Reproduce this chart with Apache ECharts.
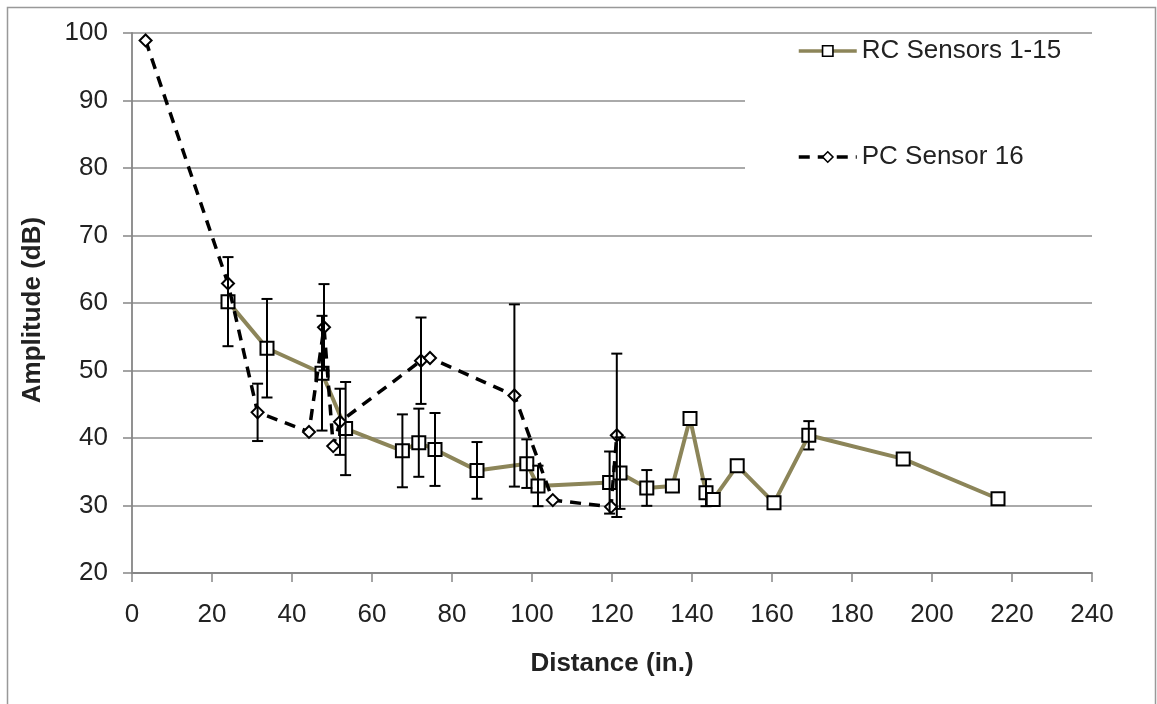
<!DOCTYPE html>
<html>
<head>
<meta charset="utf-8">
<script src="https://cdn.jsdelivr.net/npm/echarts@6/dist/echarts.min.js"></script>
<style>
  html, body { margin: 0; padding: 0; background: #fff; }
  #chart { width: 1157px; height: 704px; }
</style>
</head>
<body>
<div id="chart"></div>
<script>
// RC sensors 1-15 (squares, solid olive line)
var rcDist = [24, 33.75, 47.5, 53.4, 67.6, 71.7, 75.75, 86.25, 98.7, 101.5, 119.4, 122, 128.7, 135.1, 139.5, 143.5, 145.3, 151.3, 160.5, 169.2, 192.8, 216.5];
var rcAmp  = [60.2, 53.3, 49.6, 41.4, 38.1, 39.3, 38.3, 35.2, 36.2, 32.9, 33.4, 34.8, 32.6, 32.9, 42.9, 31.9, 30.9, 35.9, 30.4, 40.4, 36.9, 31.0];
var rcErr  = [6.6, 7.3, 8.5, 6.9, 5.4, 5.05, 5.4, 4.2, 3.6, 3.0, 4.6, 5.3, 2.65, 0, 0, 2.0, 0, 0, 0, 2.1, 0, 0];

// PC sensor 16 (diamonds, dashed black line)
var pcDist = [3.4, 24, 31.4, 44.25, 48, 50.3, 52, 72.25, 74.5, 95.6, 105.2, 119.75, 121.2];
var pcAmp  = [98.9, 62.9, 43.8, 40.9, 56.4, 38.8, 42.4, 51.45, 51.85, 46.3, 30.8, 29.8, 40.4];
var pcErr  = [0, 0, 4.25, 0, 6.4, 0, 4.9, 6.4, 0, 13.5, 0, 0, 12.1];

var xTicks = { min: 0, max: 240, interval: 20 };
var yTicks = { min: 20, max: 100, interval: 10 };

function pairs(xs, ys) {
    return xs.map(function (x, i) { return [x, ys[i]]; });
}

function errRows(xs, ys, es) {
    var out = [];
    for (var i = 0; i < xs.length; i++) {
        if (es[i] > 0) out.push([xs[i], ys[i] - es[i], ys[i] + es[i]]);
    }
    return out;
}

function renderErr(params, api) {
    var x = api.value(0);
    var top = api.coord([x, api.value(2)]);
    var bot = api.coord([x, api.value(1)]);
    var w = 5.5;
    var st = { stroke: '#000', lineWidth: 2 };
    return {
        type: 'group',
        children: [
            { type: 'line', shape: { x1: top[0], y1: top[1], x2: bot[0], y2: bot[1] }, style: st },
            { type: 'line', shape: { x1: top[0] - w, y1: top[1], x2: top[0] + w, y2: top[1] }, style: st },
            { type: 'line', shape: { x1: bot[0] - w, y1: bot[1], x2: bot[0] + w, y2: bot[1] }, style: st }
        ]
    };
}

var font = '"Liberation Sans", Arial, sans-serif';
var axisGray = '#868686';

var chart = echarts.init(document.getElementById('chart'));
chart.setOption({
    animation: false,
    backgroundColor: '#fff',
    textStyle: { fontFamily: font },
    graphic: [{
        type: 'rect',
        shape: { x: 7.5, y: 7.5, width: 1148, height: 720 },
        style: { fill: 'none', stroke: '#999', lineWidth: 1.5 },
        silent: true
    }],
    grid: { left: 132, right: 65, top: 33, bottom: 131 },
    legend: {
        orient: 'vertical',
        left: 745,
        top: 36,
        padding: [2, 50, 40, 52],
        backgroundColor: '#fff',
        itemWidth: 58,
        itemHeight: 13,
        itemGap: 80,
        data: ['RC Sensors 1-15', 'PC Sensor 16'],
        lineStyle: { width: 3.5 },
        itemStyle: { borderWidth: 1.6 },
        textStyle: { fontSize: 26, color: '#222', fontFamily: font }
    },
    xAxis: {
        type: 'value',
        min: xTicks.min, max: xTicks.max, interval: xTicks.interval,
        name: 'Distance (in.)',
        nameLocation: 'middle',
        nameGap: 78,
        nameTextStyle: { fontSize: 26, fontWeight: 'bold', color: '#222' },
        axisLine: { lineStyle: { color: axisGray, width: 1.8 } },
        axisTick: { show: true, length: 9, lineStyle: { color: axisGray, width: 1.5 } },
        axisLabel: { fontSize: 26, color: '#222', margin: 29 },
        splitLine: { show: false }
    },
    yAxis: {
        type: 'value',
        min: yTicks.min, max: yTicks.max, interval: yTicks.interval,
        name: 'Amplitude (dB)',
        nameLocation: 'middle',
        nameRotate: 90,
        nameGap: 86,
        nameTextStyle: { fontSize: 26, fontWeight: 'bold', color: '#222', padding: [0, 0, 0, -14] },
        axisLine: { show: true, lineStyle: { color: axisGray, width: 1.8 } },
        axisTick: { show: true, length: 9, lineStyle: { color: axisGray, width: 1.5 } },
        axisLabel: { fontSize: 26, color: '#222', margin: 24 },
        splitLine: { show: true, lineStyle: { color: '#8e8e8e', width: 1.5 } }
    },
    series: [
        {
            name: 'RC Sensors 1-15',
            type: 'line',
            data: pairs(rcDist, rcAmp),
            symbol: 'rect',
            symbolSize: 13,
            showAllSymbol: true,
            lineStyle: { color: '#8c8559', width: 4 },
            itemStyle: { color: '#fff', borderColor: '#000', borderWidth: 2 },
            z: 3
        },
        {
            name: 'PC Sensor 16',
            type: 'line',
            data: pairs(pcDist, pcAmp),
            symbol: 'diamond',
            symbolSize: 12,
            showAllSymbol: true,
            lineStyle: { color: '#000', width: 3.5, type: [11, 8] },
            itemStyle: { color: '#fff', borderColor: '#000', borderWidth: 2 },
            z: 4
        },
        {
            type: 'custom',
            data: errRows(rcDist, rcAmp, rcErr),
            encode: { x: 0, y: [1, 2] },
            renderItem: renderErr,
            silent: true,
            z: 5
        },
        {
            type: 'custom',
            data: errRows(pcDist, pcAmp, pcErr),
            encode: { x: 0, y: [1, 2] },
            renderItem: renderErr,
            silent: true,
            z: 5
        }
    ]
});
</script>
</body>
</html>
